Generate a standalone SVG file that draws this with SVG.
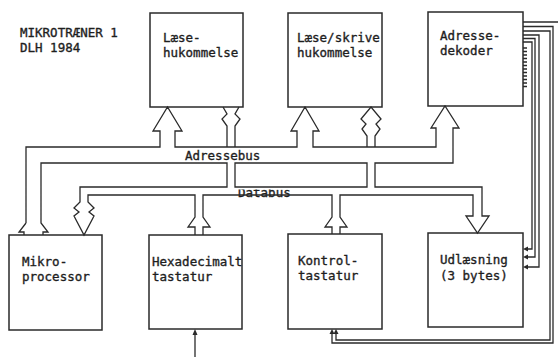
<svg xmlns="http://www.w3.org/2000/svg" width="558" height="357" viewBox="0 0 558 357">
<style>
.box{fill:none;stroke:#2a2a2a;stroke-width:1.5}
.w{fill:none;stroke:#2a2a2a;stroke-width:1.3;stroke-linejoin:miter}
.t{font-family:"DejaVu Sans Mono","Liberation Mono",monospace;font-size:12.5px;fill:#1e1e1e;stroke:#1e1e1e;stroke-width:0.35}
.ah{fill:#2a2a2a;stroke:none}
</style>
<defs>
<clipPath id="dbclip"><rect x="230" y="189.5" width="80" height="12"/></clipPath>
</defs>
<rect width="558" height="357" fill="#fff"/>
<text class="t" x="20" y="37">MIKROTRÆNER 1</text>
<text class="t" x="20" y="52">DLH 1984</text>

<g id="rom"><rect class="box" x="150" y="13" width="93" height="94"/><text class="t" x="163" y="42">Læse-</text><text class="t" x="163" y="57">hukommelse</text></g>
<g id="ram"><rect class="box" x="288" y="13" width="94" height="94"/><text class="t" x="297" y="42">Læse/skrive</text><text class="t" x="297" y="57">hukommelse</text></g>
<g id="dekoder"><rect class="box" x="428" y="12" width="95" height="94"/><text class="t" x="440" y="40">Adresse-</text><text class="t" x="440" y="55">dekoder</text></g>
<g id="cpu"><rect class="box" x="9" y="235" width="93" height="95"/><text class="t" x="22" y="266">Mikro-</text><text class="t" x="22" y="281">processor</text></g>
<g id="hex"><rect class="box" x="149" y="235" width="93" height="94"/><text class="t" x="152" y="266">Hexadecimalt</text><text class="t" x="152" y="281">tastatur</text></g>
<g id="kontrol"><rect class="box" x="288" y="234" width="94" height="95"/><text class="t" x="298" y="265">Kontrol-</text><text class="t" x="298" y="280">tastatur</text></g>
<g id="udl"><rect class="box" x="428" y="233" width="95" height="94"/><text class="t" x="440" y="264">Udlæsning</text><text class="t" x="440" y="280">(3 bytes)</text></g>

<text class="t" x="185" y="160">Adressebus</text>
<text class="t" x="238" y="197" clip-path="url(#dbclip)">Databus</text>

<g id="connectors">
<!-- address bus and data bus outlines -->
<path class="w" d="M26,223 V147 H160 V131 H153 L167.5,107 L182,131 H175 V147 H297 V131 H291 L305,107 L319,131 H313 V147 H436 V128 H431 L445,106 L459,128 H453 V163 H375 V187 H482 V216 H489 L477.5,233 L466,216 H473 V195 H340 V217 L347,227 H340 V234 M332,234 V227 H325 L332,217 V195 H203 V217 L210,227 H203 V235 M195,235 V227 H188 L195,217 V195 H88 V202 L94,208 L89,212 L94,216 L84,235 L74,216 L79,212 L74,208 L80,202 V187 H227 V163 H41 V223 L48,232 H43 V235 M24,235 V232 H19 L26,223"/>
<path class="w" d="M235,163 V187 H367 V163 Z"/>
<!-- ROM data (down chevrons) -->
<path class="w" d="M227,147 V126 L222,119 L227,114 L223,107 M235,147 V126 L240,119 L235,114 L239,107"/>
<!-- RAM data (bidirectional) -->
<path class="w" d="M367,147 V136 L362,129 L366,124 L361,119 L371,107 L381,119 L376,124 L380,129 L375,136 V147"/>
<!-- decoder outputs -->
<path class="w" d="M523,22 H558"/>
<path class="w" d="M523,26.5 H553 V343 H332 V333"/>
<path class="w" d="M523,31 H550 V340 H336 V333"/>
<path class="w" d="M523,35 H539 V267 H527"/>
<path class="w" d="M523,38.5 H535 V257 H527"/>
<path class="w" d="M523,42 H532 V249 H527"/>
<path class="w" d="M523,48 h4 M523,51.5 h4 M523,55 h4 M523,58.5 h4 M523,62 h4 M523,65.5 h4 M523,69 h4 M523,72.5 h4 M523,76 h4 M523,79.5 h4 M523,83 h4 M523,86.5 h4"/>
<polygon class="ah" points="523,249 528,246.5 528,251.5"/>
<polygon class="ah" points="523,257 528,254.5 528,259.5"/>
<polygon class="ah" points="523,267 528,264.5 528,269.5"/>
<polygon class="ah" points="332,329 329.5,334 334.5,334"/>
<polygon class="ah" points="336,329 333.5,334 338.5,334"/>
<!-- hex keyboard input -->
<path class="w" d="M195,357 V333"/>
<polygon class="ah" points="195,329 192.5,335 197.5,335"/>
</g>
</svg>
